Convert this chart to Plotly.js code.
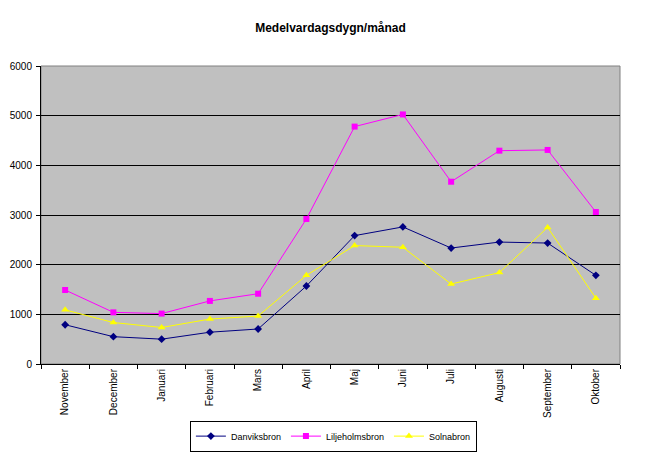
<!DOCTYPE html>
<html>
<head>
<meta charset="utf-8">
<script src="https://cdn.plot.ly/plotly-3.0.1.min.js"></script>
<style>html,body{margin:0;padding:0;background:#fff;}#chart{width:668px;height:470px;}</style>
</head>
<body>
<div id="chart"></div>
<script>
const months = ["November","December","Januari","Februari","Mars","April","Maj","Juni","Juli","Augusti","September","Oktober"];
const danviksbron = [790, 550, 500, 640, 705, 1570, 2585, 2760, 2335, 2455, 2435, 1785];
const liljeholmsbron = [1490, 1040, 1015, 1270, 1415, 2920, 4780, 5025, 3670, 4295, 4310, 3060];
const solnabron = [1090, 835, 735, 905, 965, 1785, 2385, 2350, 1610, 1840, 2750, 1325];
const yTicks = [0, 1000, 2000, 3000, 4000, 5000, 6000];

const font = "Liberation Sans, Arial, sans-serif";
function tr(name, y, color, symbol) {
  return {x: months, y: y, name: name, type: "scatter", mode: "lines+markers",
    line: {color: color, width: 1}, marker: {color: color, symbol: symbol, size: symbol === "triangle-up" ? 7 : 6}};
}
const data = [
  tr("Danviksbron", danviksbron, "#000080", "diamond"),
  tr("Liljeholmsbron", liljeholmsbron, "#FF00FF", "square"),
  tr("Solnabron", solnabron, "#FFFF00", "triangle-up")
];
const layout = {
  width: 668, height: 470,
  margin: {l: 41, r: 48, t: 66, b: 106},
  paper_bgcolor: "#ffffff", plot_bgcolor: "#C0C0C0",
  font: {family: font, size: 10, color: "#000"},
  title: {text: "<b>Medelvardagsdygn/månad</b>", font: {family: font, size: 12, color: "#000"}, x: 0.5, xref: "paper", y: 1 - 28/470, yanchor: "middle"},
  xaxis: {type: "category", range: [-0.5, 11.5], tickangle: -90, tickson: "boundaries", ticks: "outside", ticklen: 4, tickcolor: "#000",
    showline: true, linecolor: "#000", linewidth: 1, showgrid: false, mirror: false,
    tickfont: {family: font, size: 10, color: "#000"}, fixedrange: true},
  yaxis: {range: [0, 6000], tickvals: yTicks, ticktext: yTicks.map(String), ticks: "outside", ticklen: 4, tickcolor: "#000",
    showline: true, linecolor: "#000", linewidth: 1, showgrid: true, gridcolor: "#000", gridwidth: 1, zeroline: false,
    tickfont: {family: font, size: 10, color: "#000"}, ticklabelstandoff: 2},
  shapes: [{type: "rect", xref: "paper", yref: "paper", x0: 0, x1: 1, y0: 0, y1: 1, line: {color: "#808080", width: 1}, layer: "below"}],
  showlegend: true,
  legend: {orientation: "h", x: 0.505, xanchor: "center", y: -0.19, yanchor: "top",
    bordercolor: "#000", borderwidth: 1, bgcolor: "#fff", font: {family: font, size: 9, color: "#000"},
    itemwidth: 30, tracegroupgap: 0}
};
Plotly.newPlot("chart", data, layout, {displayModeBar: false, staticPlot: true});
</script>
</body>
</html>
